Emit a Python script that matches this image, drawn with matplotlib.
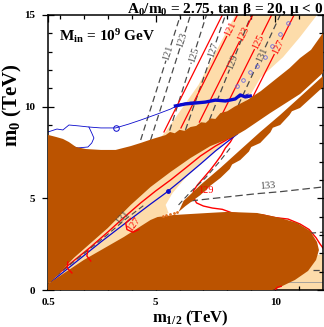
import numpy as np
import matplotlib.pyplot as plt
from matplotlib.patches import Polygon

# -------------------------------
# 0. STYLE
# -------------------------------
plt.rcParams['font.family'] = ['Liberation Serif', 'DejaVu Serif']
plt.rcParams['mathtext.fontset'] = 'custom'
plt.rcParams['mathtext.rm'] = 'Liberation Serif:bold'
plt.rcParams['mathtext.it'] = 'Liberation Serif:italic:bold'
plt.rcParams['mathtext.bf'] = 'Liberation Serif:bold'

BROWN = '#bb5300'
TAN = '#fddcaa'
RED = '#ff0000'
BLUE = '#0a0acc'
GREY = '#4a4a4a'

# -------------------------------
# 1. DATA  (m_1/2, m_0) in TeV
# -------------------------------
# excluded (brown) regions
upper_excl = [(0.5, 8.46), (0.83, 8.35), (1.125, 8.24), (1.375, 8.07), (1.67, 7.80),
              (2.08, 7.69), (2.71, 7.64), (3.33, 7.64), (3.96, 7.85), (4.375, 8.02),
              (4.9, 8.25), (5.42, 8.45), (5.6, 8.62), (5.8, 8.55), (6.0, 8.74),
              (6.2, 8.68), (6.46, 8.89), (6.7, 8.95), (6.9, 9.15), (7.1, 9.12),
              (7.3, 9.36), (7.5, 9.33), (7.71, 9.65), (8.0, 9.75), (8.3, 10.0),
              (8.83, 10.36), (9.4, 10.85), (10.08, 11.56), (10.6, 12.1), (11.04, 12.65),
              (11.5, 13.1), (12.0, 14.02), (12.0, 11.84), (11.04, 10.69), (9.79, 9.65),
              (8.75, 8.73), (8.25, 8.35), (7.29, 7.85), (6.46, 7.2), (5.625, 6.44),
              (4.79, 5.62), (3.96, 4.64), (3.0, 3.38), (1.58, 1.75), (0.625, 0.44),
              (0.5, 0.33)]
lower_excl = [(0.5, 0.0), (0.5, 0.33), (0.625, 0.44), (2.0, 1.64), (3.67, 2.89),
              (4.79, 3.82), (5.08, 3.98), (5.75, 4.09), (7.17, 4.2), (8.0, 4.26),
              (9.25, 4.2), (10.21, 3.93), (10.92, 3.66), (11.46, 3.22), (11.75, 2.62),
              (11.83, 2.18), (11.71, 1.64), (11.375, 1.04), (10.83, 0.55), (10.21, 0.16),
              (9.875, 0.0)]
thin_band = [(5.96, 4.26), (6.17, 4.86), (6.875, 5.73), (7.71, 6.66), (8.54, 7.64),
             (9.375, 8.62), (10.21, 9.55), (11.04, 10.53), (12.0, 11.67), (12.0, 11.07),
             (11.04, 9.93), (10.7, 9.75), (10.6, 9.55), (10.21, 9.0), (9.9, 8.85),
             (9.8, 8.6), (9.375, 8.02), (9.0, 7.8), (8.9, 7.55), (8.54, 7.09),
             (8.2, 6.85), (8.1, 6.6), (7.71, 6.11), (7.3, 5.7), (6.875, 5.18), (6.25, 4.58)]
band_dots_x = [5.3, 5.45, 5.6, 5.75, 5.9]
band_dots_y = [4.05, 4.1, 4.15, 4.2, 4.24]

# dark matter (tan) regions
tan_upper = [(8.33, 15.0), (7.6, 13.2), (6.8, 11.2), (6.1, 9.9), (5.4, 8.6), (4.8, 7.7),
             (7.0, 8.6), (8.4, 9.6), (8.9, 10.5), (9.4, 11.6), (10.33, 12.7),
             (11.04, 13.8), (11.75, 15.0)]
tan_wedge = [(0.625, 0.44), (1.58, 1.95), (3.0, 3.6), (3.96, 4.9), (4.79, 5.9),
             (5.625, 6.7), (6.46, 7.45), (7.29, 8.05), (8.25, 8.5), (7.42, 7.47),
             (6.75, 6.76), (6.17, 6.0), (5.71, 5.29), (5.42, 4.64), (5.54, 4.2),
             (5.08, 3.9), (4.79, 3.7), (3.67, 2.75), (2.0, 1.5)]
tan_corner = [(9.6, 0.0), (10.2, 0.2), (10.8, 0.6), (11.3, 1.0), (11.6, 1.6),
              (11.7, 1.9), (12.0, 1.95), (12.0, 0.0)]

# Higgs mass contours (GeV): straight segments, label height
dash_labels = ['121', '123', '125', '127', '129', '131']
dash_start = [(4.375, 8.18), (4.79, 8.18), (5.46, 8.18), (6.25, 8.73), (7.25, 9.27), (8.46, 10.09)]
dash_end = [(6.04, 15.0), (6.46, 15.0), (7.125, 15.0), (7.92, 15.0), (9.0, 15.0), (10.21, 15.0)]
dash_label_y = [12.93, 13.64, 12.82, 13.09, 12.44, 12.82]

red_labels = ['', '121', '123', '125', '127']
red_start = [(5.35, 8.62), (6.06, 8.84), (6.83, 9.16), (7.81, 9.66), (9.0, 10.36)]
red_end = [(7.79, 15.0), (8.42, 15.0), (9.06, 15.0), (9.85, 15.0), (10.79, 15.0)]
red_label_y = [0, 14.24, 13.96, 13.53, 13.26]

# red 129 contour running up the wedge and back down along the lower blob
red129_x = [0.71, 1.46, 2.29, 3.0, 3.75, 4.375, 5.0, 5.625, 6.25, 6.875, 7.5, 8.04, 8.25,
            8.125, 7.92, 7.75, 7.54, 7.29, 7.0, 6.75, 6.58, 6.58, 6.71, 7.0, 7.375, 7.79,
            8.21, 8.54, 8.96, 9.46, 10.0, 10.54, 11.04, 11.42, 11.71, 11.875, 12.0]
red129_y = [0.65, 1.47, 2.35, 3.16, 4.04, 4.75, 5.4, 6.0, 6.65, 7.31, 7.85, 8.24, 8.35,
            8.07, 7.75, 7.36, 6.98, 6.55, 6.11, 5.73, 5.4, 5.07, 4.75, 4.58, 4.47, 4.4,
            4.2, 4.15, 4.1, 4.1, 3.95, 3.87, 3.6, 3.3, 2.85, 2.51, 2.29]
red_arcs = [[(1.33, 1.53), (1.3, 1.2), (1.5, 0.93)],
            [(2.17, 2.18), (2.125, 1.855), (2.29, 1.58)],
            [(3.95, 3.9), (3.75, 3.65), (3.8, 3.3), (4.05, 3.15), (4.3, 3.3)],
            [(10.0, 0.0), (10.1, 0.15), (10.25, 0.2)]]

# dashed contours in the lower part
dash131_x = [0.83, 1.875, 2.92, 3.75, 4.58]
dash131_y = [0.76, 1.855, 2.95, 3.87, 4.69]
dash_w_x = [5.96, 6.46, 7.08, 7.625, 8.125]
dash_w_y = [4.64, 5.35, 6.11, 6.93, 7.75]
dash133_x = [6.46, 9.2, 10.2, 12.0]
dash133_y = [4.86, 5.25, 5.36, 5.62]

# blue (relic density) lines
blue_up_x = [0.5, 0.875, 1.125, 1.375, 1.79, 2.21, 2.71, 3.33, 3.875, 4.375, 5.08,
             5.625, 6.04, 6.46, 6.875, 7.5, 8.125, 8.54, 8.875]
blue_up_y = [8.62, 8.78, 8.73, 9.0, 8.95, 8.89, 8.84, 8.84, 9.05, 9.27, 9.6,
             9.87, 10.15, 10.25, 10.25, 10.31, 10.36, 10.53, 10.69]
blue_loop_x = [2.21, 2.33, 2.42, 2.33, 2.17, 1.75, 1.46]
blue_loop_y = [8.89, 8.56, 8.29, 8.02, 7.8, 7.75, 7.85]
blue_thick_x = [5.83, 6.25, 6.67, 7.08, 7.5, 7.92, 8.33, 8.54, 8.75, 8.96]
blue_thick_y = [10.04, 10.15, 10.2, 10.25, 10.36, 10.31, 10.42, 10.64, 10.53, 10.58]
blue_circ_x = [8.42, 8.67, 8.96, 9.25, 9.58, 9.875, 10.21, 10.54]
blue_circ_y = [11.13, 11.46, 11.89, 12.22, 12.71, 13.31, 13.96, 14.56]
blue_low_x = [0.625, 1.46, 2.71, 3.96, 4.79, 5.42, 6.04, 6.875, 7.5, 8.04, 8.42]
blue_low_y = [0.44, 1.31, 2.62, 3.87, 4.69, 5.29, 5.95, 6.87, 7.58, 8.13, 8.51]

# -------------------------------
# 2. FIGURE
# -------------------------------
fig = plt.figure(figsize=(3.24, 3.27), dpi=100)
ax = fig.add_axes([48 / 324, 37 / 327, 275 / 324, 275 / 327])
ax.set_xlim(0.5, 12)
ax.set_ylim(0, 15)

for poly in [tan_upper, tan_wedge, tan_corner]:
    ax.add_patch(Polygon(poly, closed=True, fc=TAN, ec='none', zorder=1))
for poly in [upper_excl, lower_excl, thin_band]:
    ax.add_patch(Polygon(poly, closed=True, fc=BROWN, ec='none', zorder=3))
ax.plot(band_dots_x, band_dots_y, ls='none', marker='.', ms=2, color='#e07020', zorder=3)

DASH = (0, (5, 3))


def labelled_line(p0, p1, text, y_lab, color, ls, gap=0.42):
    x0, y0 = p0
    x1, y1 = p1
    if not text:
        ax.plot([x0, x1], [y0, y1], color=color, ls=ls, lw=0.9, zorder=2)
        return
    t = (y_lab - y0) / (y1 - y0)
    dt = gap / (y1 - y0)
    for ta, tb in [(0, t - dt), (t + dt, 1)]:
        ax.plot([x0 + ta * (x1 - x0), x0 + tb * (x1 - x0)],
                [y0 + ta * (y1 - y0), y0 + tb * (y1 - y0)],
                color=color, ls=ls, lw=0.9, zorder=2)
    a = ax.transData.transform([p0, p1])
    ang = np.degrees(np.arctan2(a[1, 1] - a[0, 1], a[1, 0] - a[0, 0]))
    ax.text(x0 + t * (x1 - x0), y_lab, text, rotation=ang, rotation_mode='anchor',
            ha='center', va='center', color=color, fontsize=7.5, zorder=4)


for lab, p0, p1, yl in zip(dash_labels, dash_start, dash_end, dash_label_y):
    labelled_line(p0, p1, lab, yl, GREY, DASH)
for lab, p0, p1, yl in zip(red_labels, red_start, red_end, red_label_y):
    labelled_line(p0, p1, lab, yl, RED, '-')

ax.plot(red129_x, red129_y, color=RED, lw=1.0, zorder=2)
for arc in red_arcs:
    ax.plot([p[0] for p in arc], [p[1] for p in arc], color=RED, lw=1.0, zorder=4)
ax.plot(dash131_x, dash131_y, color=GREY, ls=DASH, lw=0.8, zorder=2)
ax.plot(dash_w_x, dash_w_y, color=GREY, ls=DASH, lw=0.8, zorder=2)
ax.plot(dash133_x, dash133_y, color=GREY, ls=(0, (6, 3)), lw=0.9, zorder=2)

# grey bits at the right edge
ax.plot([11.45, 12.0], [3.1, 3.15], color=GREY, ls=DASH, lw=0.9, zorder=2)
ax.plot([11.6, 12.0], [1.1, 1.1], color=GREY, ls=DASH, lw=0.9, zorder=2)
ax.plot([9.8, 12.0], [0.44, 0.44], color='#999999', lw=0.6, zorder=2)

ax.plot(blue_up_x, blue_up_y, color=BLUE, lw=0.6, zorder=2)
ax.plot(blue_loop_x, blue_loop_y, color=BLUE, lw=0.6, zorder=2)
ax.plot([3.33], [8.84], marker='o', ms=4, mfc='none', mec=BLUE, mew=0.7, zorder=2)
ax.plot(blue_thick_x, blue_thick_y, color=BLUE, lw=2.4, zorder=2)
ax.plot(blue_circ_x, blue_circ_y, ls='none', marker='o', ms=2.6, mfc='none',
        mec='#6a6ae0', mew=0.6, zorder=2)
ax.plot(blue_low_x, blue_low_y, color=BLUE, lw=0.9, zorder=2)
ax.plot([5.5], [5.38], marker='o', ms=2.5, color=BLUE, zorder=2)

# contour labels in the lower part
ax.text(3.6, 3.95, '131', rotation=48, ha='center', va='center', color=GREY, fontsize=7.5, zorder=4)
ax.text(4.08, 3.58, '127', rotation=52, ha='center', va='center', color=RED, fontsize=7.5, zorder=4)
ax.text(7.12, 5.45, '129', ha='center', va='center', color=RED, fontsize=7.5, zorder=4)
ax.text(9.7, 5.7, '133', rotation=4, ha='center', va='center', color=GREY, fontsize=7.5, zorder=4)

# -------------------------------
# 3. AXES, TICKS, TEXT
# -------------------------------
ax.set_xticks([0.5, 5, 10])
ax.set_xticklabels(['0.5', '5', '10'])
ax.set_xticks(np.arange(1, 12), minor=True)
ax.set_yticks([0, 5, 10, 15])
ax.set_yticks(np.arange(0, 16), minor=True)
ax.tick_params(which='both', direction='in', top=True, right=True, width=0.9, labelsize=8)
ax.tick_params(which='major', length=5)
ax.tick_params(which='minor', length=3)
ax.tick_params(axis='y', which='major', direction='inout', length=9)
ax.tick_params(axis='x', pad=6)
ax.tick_params(axis='y', pad=5)
plt.setp(ax.get_xticklabels() + ax.get_yticklabels(), fontweight='bold')
for s in ax.spines.values():
    s.set_linewidth(1.1)

ax.text(0.96, 13.85, r'M$_\mathrm{in}$ = 10$^9$ GeV', fontsize=11, fontweight='bold',
        ha='left', va='center', zorder=5)
fig.text(0.997, 0.959, r'A$_0$/m$_0$ = 2.75, tan β = 20, μ < 0', fontsize=11,
         fontweight='bold', ha='right', va='baseline')
fig.text(0.588, 0.015, r'm$_{1/2}$ (TeV)', fontsize=12, fontweight='bold',
         ha='center', va='baseline')
fig.text(0.04, 0.68, r'm$_0$ (TeV)', fontsize=15, fontweight='bold',
         ha='center', va='center', rotation=90)

fig.savefig('out.png', dpi=100)
